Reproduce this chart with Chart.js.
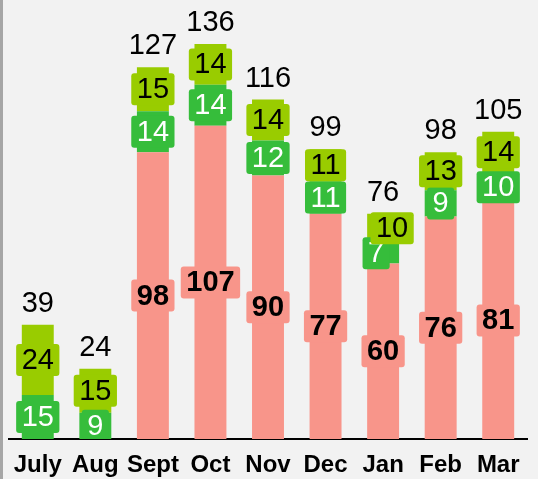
<!DOCTYPE html>
<html>
<head>
<meta charset="utf-8">
<script src="https://cdn.jsdelivr.net/npm/chart.js@4"></script>
<style>
  html, body { margin: 0; padding: 0; background: #f2f2f2; }
  #wrap { position: relative; width: 538px; height: 479px; }
  #edge { position: absolute; left: 0; top: 0; width: 3px; height: 479px; background: #a6a6a6; }
</style>
</head>
<body>
<div id="wrap">
  <canvas id="barChart" width="538" height="479"></canvas>
  <div id="edge"></div>
</div>
<script>
// data
var months = ["July", "Aug", "Sept", "Oct", "Nov", "Dec", "Jan", "Feb", "Mar"];
var baseVals = [0, 0, 98, 107, 90, 77, 60, 76, 81];
var midVals = [15, 9, 14, 14, 12, 11, 7, 9, 10];
var topVals = [24, 15, 15, 14, 14, 11, 10, 13, 14];
var totals = [39, 24, 127, 136, 116, 99, 76, 98, 105];

const FONT = "'Liberation Sans', Arial, sans-serif";

// small nudges where labels would collide (Jan)
const nudge = { "1-6": -7, "2-6": 9 };

const labelStyle = [
  { bg: "#f8958a", color: "#000000", weight: "bold" },
  { bg: "#36bd3b", color: "#ffffff", weight: "normal" },
  { bg: "#99cc00", color: "#000000", weight: "normal" }
];

const barLabels = {
  id: "barLabels",
  afterDatasetsDraw(chart) {
    const ctx = chart.ctx;
    const bottom = chart.chartArea.bottom - 1;
    ctx.save();
    ctx.textAlign = "center";
    ctx.textBaseline = "middle";
    chart.data.datasets.forEach(function (ds, di) {
      const meta = chart.getDatasetMeta(di);
      const st = labelStyle[di];
      ctx.font = st.weight + " 29px " + FONT;
      meta.data.forEach(function (bar, i) {
        const v = ds.data[i];
        if (!v) return;
        const x = bar.x + (nudge[di + "-" + i] || 0);
        const y = (bar.y + bar.base) / 2;
        const w = ctx.measureText(String(v)).width + 11;
        const h = 32;
        let top = y - h / 2;
        let bh = h;
        if (top + bh > bottom) bh = bottom - top; // keep box above the axis
        ctx.fillStyle = st.bg;
        ctx.beginPath();
        ctx.roundRect(x - w / 2, top, w, bh, 3);
        ctx.fill();
        ctx.fillStyle = st.color;
        ctx.fillText(String(v), x, y + 1);
      });
    });
    // totals above stacks
    const topMeta = chart.getDatasetMeta(2);
    ctx.font = "normal 29px " + FONT;
    ctx.fillStyle = "#000000";
    ctx.textBaseline = "alphabetic";
    topMeta.data.forEach(function (bar, i) {
      ctx.fillText(String(totals[i]), bar.x, bar.y - 13);
    });
    ctx.restore();
  }
};

let barChart = new Chart(document.getElementById("barChart"), {
  type: "bar",
  data: {
    labels: months,
    datasets: [
      { data: baseVals, backgroundColor: "#f8958a" },
      { data: midVals, backgroundColor: "#36bd3b" },
      { data: topVals, backgroundColor: "#99cc00" }
    ]
  },
  options: {
    responsive: false,
    animation: false,
    categoryPercentage: 1,
    barPercentage: 0.555,
    layout: { padding: { left: 9, right: 11, top: 0, bottom: 0 } },
    plugins: { legend: { display: false }, tooltip: { enabled: false } },
    scales: {
      x: {
        stacked: true,
        grid: { display: false, drawTicks: false },
        border: { display: true, color: "#000000", width: 2 },
        afterFit: function (scale) { scale.height = 40; },
        ticks: {
          color: "#000000",
          padding: 12,
          maxRotation: 0,
          minRotation: 0,
          autoSkip: false,
          font: { family: FONT, size: 24, weight: "bold" }
        }
      },
      y: {
        stacked: true,
        display: false,
        min: 0,
        max: 150
      }
    }
  },
  plugins: [barLabels]
});
</script>
</body>
</html>
